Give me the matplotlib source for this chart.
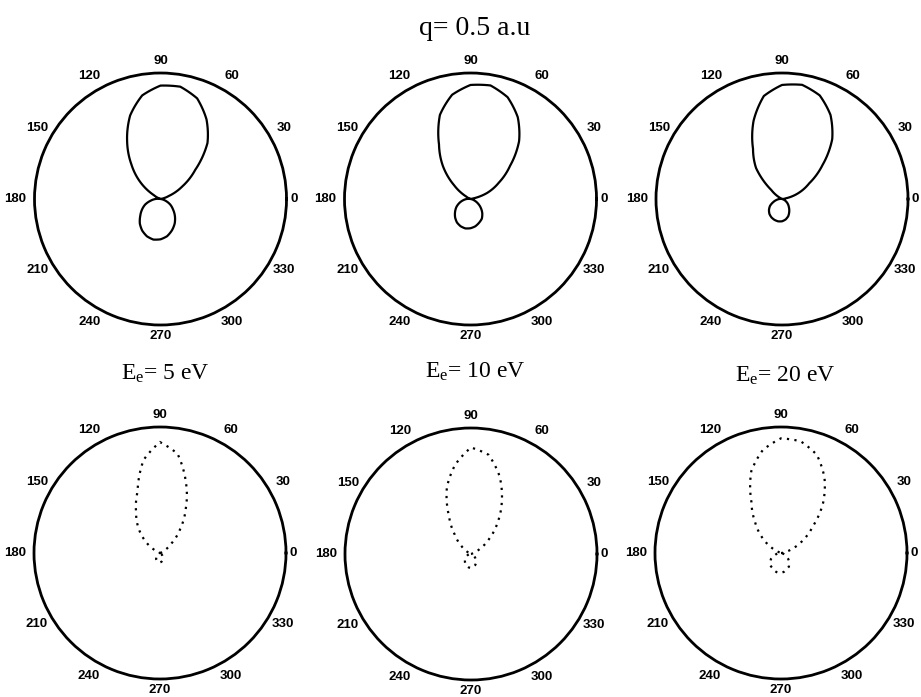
import numpy as np
import matplotlib
matplotlib.use('Agg')
import matplotlib.pyplot as plt
from matplotlib.path import Path
from matplotlib.patches import PathPatch

plt.rcParams['mathtext.fontset'] = 'custom'
plt.rcParams['mathtext.rm'] = 'Liberation Serif'
plt.rcParams['mathtext.it'] = 'Liberation Serif:italic'

theta_deg = list(range(0, 361, 10))

# top row (solid) - normalised to the outer circle
top_5eV = [0, 0, 0.07, 0.2, 0.36, 0.58, 0.73, 0.85, 0.905, 0.9, 0.835, 0.705,
           0.53, 0.36, 0.21, 0.06, 0, 0, 0.04, 0.08, 0.13, 0.17, 0.21, 0.255,
           0.29, 0.315, 0.327, 0.32, 0.30, 0.265, 0.225, 0.178, 0.13, 0.09,
           0.045, 0.01, 0]
top_10eV = [0, 0, 0.14, 0.26, 0.41, 0.6, 0.75, 0.86, 0.915, 0.905, 0.84, 0.71,
            0.50, 0.34, 0.17, 0.04, 0, 0, 0.03, 0.06, 0.095, 0.13, 0.16, 0.19,
            0.215, 0.23, 0.237, 0.232, 0.22, 0.2, 0.18, 0.145, 0.105, 0.065,
            0.03, 0.005, 0]
top_20eV = [0, 0.03, 0.14, 0.25, 0.42, 0.62, 0.77, 0.875, 0.92, 0.905, 0.83, 0.66,
            0.46, 0.32, 0.11, 0.02, 0, 0, 0.02, 0.045, 0.075, 0.11, 0.135, 0.155,
            0.168, 0.176, 0.18, 0.177, 0.165, 0.145, 0.115, 0.085, 0.06, 0.035,
            0.015, 0.005, 0]

# bottom row (dotted)
bot_5eV = [0, 0, 0, 0.04, 0.12, 0.25, 0.41, 0.6, 0.80, 0.88, 0.75, 0.52,
           0.38, 0.27, 0.16, 0.06, 0, 0, 0, 0, 0.01, 0.02, 0.03, 0.045,
           0.06, 0.07, 0.075, 0.075, 0.07, 0.06, 0.045, 0.03, 0.015, 0, 0, 0, 0]
bot_10eV = [0, 0, 0.01, 0.08, 0.19, 0.33, 0.49, 0.66, 0.80, 0.845, 0.72, 0.56,
            0.35, 0.2, 0.1, 0.03, 0, 0, 0.005, 0.015, 0.03, 0.045, 0.06, 0.075,
            0.09, 0.1, 0.108, 0.11, 0.105, 0.095, 0.08, 0.06, 0.04, 0.02,
            0.005, 0, 0]
bot_20eV = [0, 0.02, 0.09, 0.2, 0.33, 0.52, 0.69, 0.83, 0.9, 0.91, 0.83, 0.69,
            0.47, 0.32, 0.2, 0.09, 0, 0, 0.01, 0.03, 0.055, 0.09, 0.112, 0.13,
            0.137, 0.15, 0.158, 0.158, 0.15, 0.135, 0.125, 0.1, 0.075, 0.04,
            0.02, 0.005, 0]

energy_labels = ['5', '10', '20']
tick_angles = list(range(0, 360, 30))

fig = plt.figure(figsize=(9.21, 6.97), dpi=100)
W, H = 921, 697
R = 126

# circle centres in pixels
centres = [(160.5, 199), (470.5, 199), (782, 199),
           (160, 553), (471, 554), (781, 553)]
curves = [top_5eV, top_10eV, top_20eV, bot_5eV, bot_10eV, bot_20eV]

# distance of angle labels from centre, in units of the outer radius
label_r = {0: 1.06, 90: 1.095, 180: 1.15, 270: 1.09}

th = np.radians(theta_deg)
for i, ((cx, cy), r) in enumerate(zip(centres, curves)):
    ax = fig.add_axes([(cx - R) / W, (H - cy - R) / H, 2 * R / W, 2 * R / H],
                      projection='polar')
    # path drawn in data space so polar transform bends segments into arcs
    path = Path(np.column_stack([th, r]), _interpolation_steps=12)
    ls = '-' if i < 3 else (0, (1, 2.4))
    ax.add_patch(PathPatch(path, fill=False, edgecolor='black', lw=1.6,
                           linestyle=ls, transform=ax.transData))
    ax.set_ylim(0, 1)
    ax.set_yticks([])
    ax.set_xticks(np.radians(tick_angles))
    ax.set_xticklabels([])
    ax.set_xticks(np.radians(range(15, 360, 30)), minor=True)
    ax.grid(False)
    ax.tick_params(axis='x', which='major', direction='in', length=4, width=1.2)
    ax.tick_params(axis='x', which='minor', direction='in', length=3, width=1)
    ax.spines['polar'].set_linewidth(2)
    for a in tick_angles:
        ax.text(np.radians(a), label_r.get(a, 1.13), str(a), ha='center',
                va='center', fontsize=9.5, fontweight='bold',
                family='Liberation Sans', clip_on=False)

fig.text(475 / W, 1 - 35 / H, 'q= 0.5 a.u', ha='center', va='baseline',
         fontsize=20, family='Liberation Serif')
label_pos = [(165, 380), (475, 378), (785, 382)]
for (x, y), e in zip(label_pos, energy_labels):
    fig.text(x / W, 1 - y / H, r'E$_{\mathrm{e}}$= ' + e + ' eV', ha='center',
             va='baseline', fontsize=17, family='Liberation Serif')

plt.savefig('out.png', dpi=100)
